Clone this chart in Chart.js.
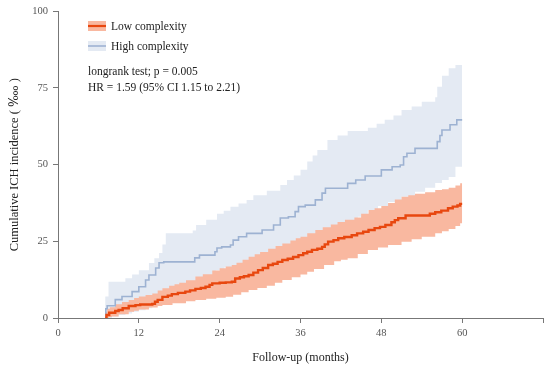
<!DOCTYPE html>
<html>
<head>
<meta charset="utf-8">
<script src="https://cdn.jsdelivr.net/npm/chart.js@4.4.1/dist/chart.umd.min.js"></script>
<style>
  html, body { margin: 0; padding: 0; background: #fff; }
  #wrap { width: 550px; height: 369px; }
</style>
</head>
<body>
<div id="wrap"><canvas id="myChart"></canvas></div>
<script>
// axis ticks
const xTicks = [0, 12, 24, 36, 48, 60, 72];
const yTicks = [0, 25, 50, 75, 100];

// Low complexity - cumulative incidence (step curve)
const lowMonths = [7.0, 7.2, 7.6, 8.5, 9.0, 9.6, 10.5, 11.5, 12.2, 14.0, 14.4, 14.8, 15.5, 16.3, 16.9, 17.8, 18.9, 19.6, 20.4, 21.2, 21.9, 22.5, 22.9, 24.0, 24.9, 25.8, 26.3, 27.0, 27.6, 28.3, 29.0, 29.7, 30.4, 31.2, 31.9, 32.6, 33.3, 34.1, 34.9, 35.7, 36.4, 37.0, 37.7, 38.5, 39.2, 39.6, 40.1, 40.9, 41.6, 42.5, 43.6, 44.4, 45.3, 46.1, 47.0, 47.8, 48.6, 49.5, 50.0, 50.5, 51.6, 55.2, 56.0, 56.9, 57.9, 58.6, 59.3, 59.7, 60.0];
const lowValues = [0, 1.0, 1.7, 2.3, 2.6, 3.2, 3.9, 4.2, 4.4, 4.6, 5.3, 5.9, 6.9, 7.3, 7.8, 8.2, 8.6, 9.0, 9.5, 9.8, 10.2, 10.8, 11.3, 11.5, 11.6, 11.8, 12.9, 13.3, 13.6, 14.0, 14.8, 15.6, 16.3, 17.3, 17.7, 18.3, 18.9, 19.3, 19.9, 20.5, 21.1, 21.6, 22.2, 22.6, 23.2, 24.0, 24.9, 25.4, 26.0, 26.4, 27.0, 27.6, 28.1, 28.7, 29.3, 29.7, 30.3, 31.2, 31.9, 32.5, 33.4, 34.0, 34.5, 35.0, 35.8, 36.3, 36.7, 37.2, 37.2];

// Low complexity - 95% CI
const lowUpperMonths = [7.0, 7.3, 7.7, 8.5, 9.5, 10.5, 11.3, 12.0, 13.0, 14.0, 14.8, 15.5, 16.5, 17.3, 18.0, 19.0, 20.4, 21.5, 22.9, 24.0, 24.9, 25.8, 26.5, 27.4, 28.3, 29.2, 30.0, 31.2, 32.3, 33.3, 34.5, 35.3, 36.0, 37.0, 38.2, 39.3, 40.5, 41.5, 42.6, 44.0, 45.0, 46.1, 47.0, 48.0, 49.0, 50.0, 51.0, 52.0, 53.0, 54.5, 56.0, 57.0, 58.0, 59.0, 59.7, 60.0];
const lowUpperValues = [2.0, 3.0, 3.5, 4.5, 5.2, 5.9, 6.5, 7.0, 7.5, 8.0, 9.0, 9.7, 10.5, 11.0, 11.5, 12.3, 13.5, 14.3, 15.5, 16.2, 16.8, 17.3, 18.0, 19.0, 20.0, 20.8, 21.5, 22.6, 23.5, 24.3, 25.3, 26.0, 26.5, 27.6, 28.7, 29.6, 30.5, 31.3, 32.0, 32.8, 34.0, 35.2, 35.8, 36.5, 37.5, 38.6, 39.5, 40.0, 40.5, 41.0, 41.7, 42.0, 42.5, 43.2, 43.9, 43.9];
const lowLowerMonths = [7.0, 7.5, 8.0, 9.0, 10.5, 11.3, 12.0, 13.5, 14.8, 15.5, 17.0, 19.0, 20.4, 22.0, 23.5, 24.9, 26.0, 27.2, 28.3, 29.6, 31.0, 32.2, 33.3, 34.7, 36.0, 37.0, 38.0, 39.5, 41.0, 42.0, 43.0, 44.5, 46.0, 47.5, 49.0, 51.0, 52.5, 54.0, 56.0, 57.0, 58.0, 59.0, 59.7, 60.0];
const lowLowerValues = [0, 0.3, 0.5, 1.2, 2.0, 2.4, 2.8, 3.4, 3.9, 4.2, 4.8, 5.5, 5.9, 6.3, 6.6, 6.9, 7.6, 8.4, 9.1, 9.8, 10.5, 11.5, 12.4, 13.3, 14.2, 15.1, 16.0, 17.3, 18.5, 19.0, 19.5, 20.9, 22.2, 23.0, 23.8, 24.9, 25.7, 26.5, 27.6, 28.3, 29.0, 30.0, 30.9, 30.9];

// High complexity - cumulative incidence (step curve)
const highMonths = [7.0, 7.1, 7.3, 8.5, 9.5, 11.0, 12.0, 13.0, 13.5, 14.5, 15.0, 15.7, 20.3, 21.0, 23.3, 23.6, 24.3, 25.6, 26.0, 26.8, 28.0, 30.3, 32.0, 33.0, 34.2, 35.2, 35.7, 36.7, 38.2, 39.2, 39.7, 43.0, 44.2, 45.6, 48.0, 49.6, 50.8, 51.3, 51.8, 53.0, 56.3, 56.7, 57.0, 58.2, 59.2, 60.0];
const highValues = [0, 3.0, 4.0, 6.0, 7.0, 8.6, 10.2, 12.4, 14.0, 16.3, 18.0, 18.3, 19.6, 20.5, 21.6, 22.8, 23.2, 23.8, 25.4, 26.5, 27.6, 28.7, 30.3, 32.6, 33.0, 34.7, 36.3, 36.8, 38.5, 40.7, 42.3, 43.9, 45.0, 46.3, 48.3, 49.3, 49.9, 52.6, 53.7, 55.3, 57.5, 59.5, 61.3, 63.0, 64.6, 64.6];

// High complexity - 95% CI
const highUpperMonths = [7.0, 7.5, 10.0, 11.0, 12.0, 13.5, 14.3, 15.0, 15.5, 16.0, 20.0, 20.5, 22.0, 23.6, 24.6, 25.6, 26.8, 28.0, 29.0, 31.0, 33.0, 34.0, 35.0, 36.0, 37.0, 37.8, 38.5, 40.0, 41.5, 43.0, 46.0, 47.3, 48.5, 49.8, 51.0, 52.5, 54.0, 56.0, 56.3, 57.0, 58.0, 59.0, 60.0];
const highUpperValues = [7.0, 11.8, 13.0, 14.2, 15.6, 17.9, 19.5, 21.2, 24.0, 27.6, 28.5, 30.3, 32.0, 34.0, 35.0, 36.3, 37.3, 38.5, 40.0, 41.5, 43.4, 45.0, 46.5, 48.3, 51.0, 53.0, 54.8, 58.0, 59.5, 61.0, 62.0, 63.3, 64.6, 66.0, 67.8, 69.0, 70.5, 72.0, 75.4, 79.0, 81.4, 82.5, 83.6];
const highLowerMonths = [7.0, 8.0, 9.0, 10.0, 11.0, 12.0, 13.0, 14.0, 15.0, 16.0, 17.0, 18.0, 19.0, 20.0, 21.0, 22.0, 23.4, 24.7, 26.0, 27.5, 29.0, 30.5, 32.0, 33.5, 35.0, 36.5, 38.0, 39.0, 40.0, 41.0, 42.0, 43.0, 44.5, 46.0, 47.5, 49.0, 51.0, 53.0, 54.5, 56.0, 57.0, 58.0, 59.0, 60.0];
const highLowerValues = [0, 0.5, 1.0, 1.5, 2.0, 2.5, 3.2, 4.0, 4.5, 5.0, 6.2, 7.5, 8.8, 10.0, 11.5, 13.0, 15.6, 16.5, 17.3, 18.1, 18.9, 20.0, 21.2, 22.2, 23.2, 24.3, 25.4, 26.5, 27.6, 28.7, 29.8, 30.9, 33.0, 35.2, 36.5, 37.8, 39.5, 41.2, 42.5, 44.0, 45.0, 46.0, 49.3, 49.3];

const seriesNames = ['Low complexity', 'High complexity'];
const statLines = ['longrank test; p = 0.005', 'HR = 1.59 (95% CI 1.15 to 2.21)'];

const lowLine = '#e8470f';
const lowBand = '#f9b8a0';
const highLine = '#9db2d2';
const highBand = '#e4eaf3';
const fontFamily = '"Liberation Serif", "DejaVu Serif", serif';

function toPoints(xs, ys) {
  return xs.map((x, i) => ({x: x, y: ys[i]}));
}

// legend + stats text drawn inside the plot area
const legendPlugin = {
  id: 'insideLegend',
  afterDraw(chart) {
    const ctx = chart.ctx;
    ctx.save();
    const items = [
      {name: seriesNames[0], band: lowBand, line: lowLine, w: 2.2, y: 26},
      {name: seriesNames[1], band: highBand, line: highLine, w: 1.6, y: 46}
    ];
    ctx.font = '11.5px ' + fontFamily;
    ctx.textBaseline = 'middle';
    items.forEach(it => {
      ctx.fillStyle = it.band;
      ctx.fillRect(88, it.y - 5, 18, 10);
      ctx.strokeStyle = it.line;
      ctx.lineWidth = it.w;
      ctx.beginPath();
      ctx.moveTo(88, it.y);
      ctx.lineTo(106, it.y);
      ctx.stroke();
      ctx.fillStyle = '#222';
      ctx.fillText(it.name, 111, it.y + 0.5);
    });
    ctx.fillText(statLines[0], 88, 72);
    ctx.fillText(statLines[1], 88, 88);
    ctx.restore();
  }
};

const myChart = document.getElementById('myChart');

let kmChart = new Chart(myChart, {
  type: 'line',
  data: {
    datasets: [
      {label: seriesNames[0], data: toPoints(lowMonths, lowValues), borderColor: lowLine, borderWidth: 2.4, stepped: 'before', pointRadius: 0, fill: false, order: 0},
      {label: seriesNames[1], data: toPoints(highMonths, highValues), borderColor: highLine, borderWidth: 1.6, stepped: 'before', pointRadius: 0, fill: false, order: 1},
      {label: 'low lower', data: toPoints(lowLowerMonths, lowLowerValues), borderWidth: 0, borderColor: 'rgba(0,0,0,0)', stepped: 'before', pointRadius: 0, fill: false, order: 2},
      {label: 'low upper', data: toPoints(lowUpperMonths, lowUpperValues), borderWidth: 0, borderColor: 'rgba(0,0,0,0)', backgroundColor: lowBand, stepped: 'before', pointRadius: 0, fill: 2, order: 2},
      {label: 'high lower', data: toPoints(highLowerMonths, highLowerValues), borderWidth: 0, borderColor: 'rgba(0,0,0,0)', stepped: 'before', pointRadius: 0, fill: false, order: 3},
      {label: 'high upper', data: toPoints(highUpperMonths, highUpperValues), borderWidth: 0, borderColor: 'rgba(0,0,0,0)', backgroundColor: highBand, stepped: 'before', pointRadius: 0, fill: 4, order: 3}
    ]
  },
  options: {
    responsive: true,
    maintainAspectRatio: false,
    animation: false,
    layout: {padding: {top: 5, right: 7, left: 0, bottom: 0}},
    plugins: {
      legend: {display: false},
      tooltip: {enabled: false}
    },
    scales: {
      x: {
        type: 'linear',
        min: xTicks[0],
        max: xTicks[xTicks.length - 1],
        afterBuildTicks: s => { s.ticks = xTicks.map(v => ({value: v})); },
        afterFit: s => { s.height = 51; },
        border: {color: '#777', width: 1},
        grid: {drawOnChartArea: false, drawTicks: true, tickLength: 5, color: '#777'},
        ticks: {
          color: '#555',
          font: {family: fontFamily, size: 10.5},
          padding: 4,
          maxRotation: 0,
          callback: v => (v === 72 ? '' : v)
        },
        title: {display: true, text: 'Follow-up (months)', color: '#222', font: {family: fontFamily, size: 12}, padding: {top: 6}}
      },
      y: {
        min: yTicks[0],
        max: yTicks[yTicks.length - 1],
        afterBuildTicks: s => { s.ticks = yTicks.map(v => ({value: v})); },
        afterFit: s => { s.width = 58; },
        border: {color: '#777', width: 1},
        grid: {drawOnChartArea: false, drawTicks: true, tickLength: 5, color: '#777'},
        ticks: {
          color: '#555',
          font: {family: fontFamily, size: 10.5},
          padding: 5
        },
        title: {display: true, text: 'Cumulative ICH incidence ( \u2031 )', color: '#222', font: {family: fontFamily, size: 12.5}, padding: {top: 7, bottom: 0}}
      }
    }
  },
  plugins: [legendPlugin]
});
</script>
</body>
</html>
